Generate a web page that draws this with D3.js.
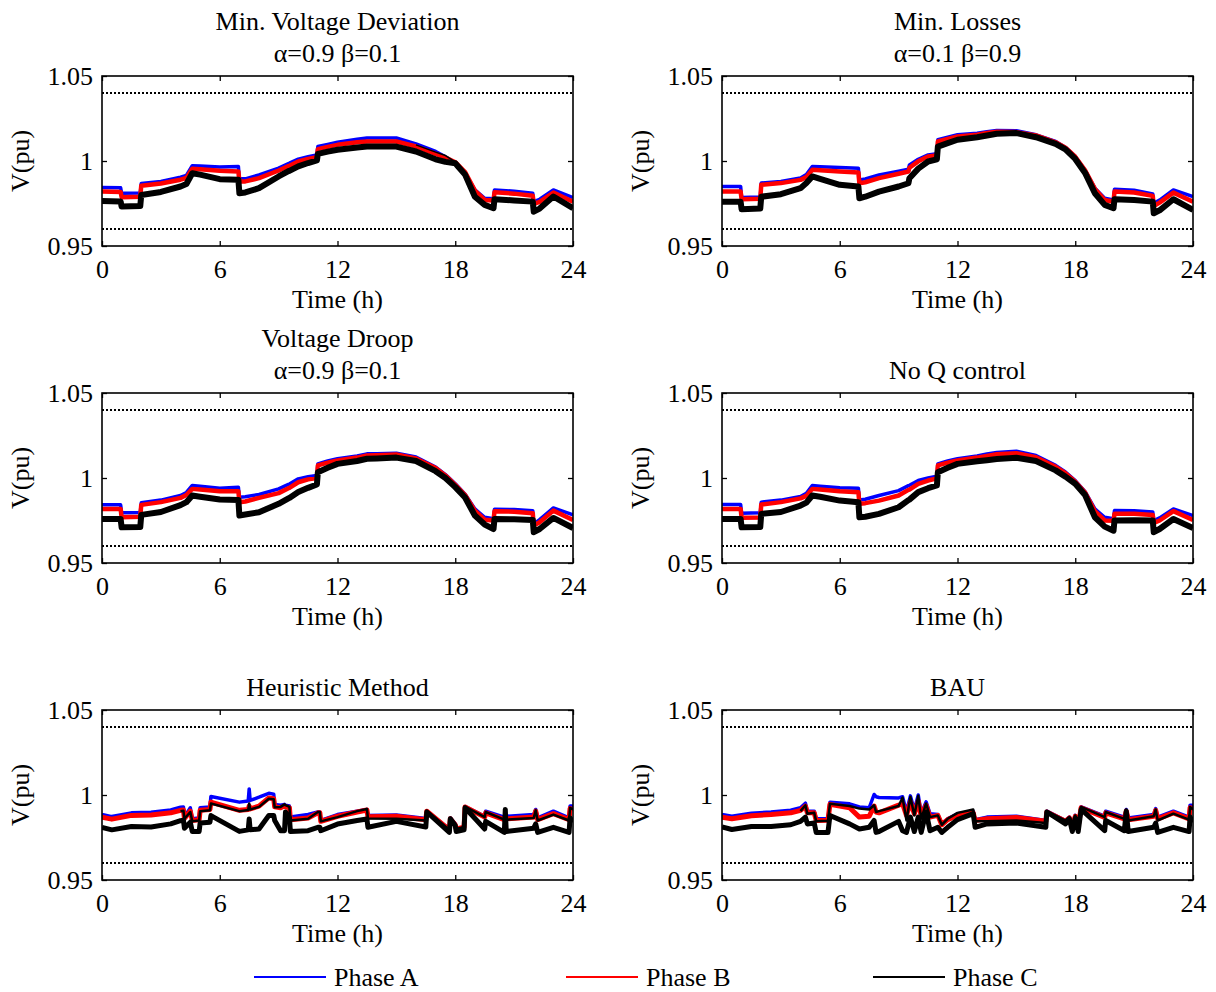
<!DOCTYPE html>
<html>
<head>
<meta charset="utf-8">
<script src="https://cdn.jsdelivr.net/npm/d3@7"></script>
<style>
  body { margin: 0; background: #fff; }
  svg { display: block; }
  text { font-family: "Liberation Serif", "Times New Roman", serif; fill: #000; }
</style>
</head>
<body>
<svg id="chart" width="1216" height="992"></svg>
<script>
// ---- Axis ticks ----
const xTickValues = [0, 6, 12, 18, 24];
const yTickValues = [0.95, 1, 1.05];
const yTickLabels = ["0.95", "1", "1.05"];
const voltageLimits = [0.96, 1.04];

// ---- Legend ----
const phaseNames = ["Phase A", "Phase B", "Phase C"];
const phaseColors = ["#0000ff", "#ff0000", "#000000"];

// ---- Time base for the optimisation / droop / no-control cases (hours) ----
const timeTop = [0, 0.95, 1.0, 1.95, 2.0, 3.0, 4.0, 4.3, 4.6, 5.0, 6.0, 6.95, 7.0, 7.3, 8.0,
  9.0, 9.5, 9.55, 10.0, 10.5, 10.95, 11.0, 11.5, 12.0, 13.0, 13.5, 14.0, 15.0, 16.0, 17.0,
  17.5, 18.0, 18.5, 19.0, 19.5, 19.95, 20.0, 21.0, 21.95, 22.0, 22.3, 23.0, 24.0];

// Min. voltage deviation (alpha=0.9, beta=0.1)
const mvdA = [0.9844,0.9842,0.9810,0.9812,0.9868, 0.9880,0.9905,0.9915,0.9972,0.9970,
  0.9964,0.9968,0.9895,0.9895,0.9918, 0.9958,0.9985,0.9987,1.0011,1.0025,
  1.0036,1.0085,1.0098,1.0111,1.0128, 1.0135,1.0135,1.0135,1.0101,1.0056,
  1.0025,0.9987,0.9930,0.9830,0.9781, 0.9778,0.9830,0.9822,0.9810,0.9761,
  0.9775,0.9830,0.9785];
const mvdB = [0.9820,0.9818,0.9787,0.9790,0.9855, 0.9868,0.9890,0.9900,0.9954,0.9952,
  0.9942,0.9938,0.9879,0.9880,0.9899, 0.9944,0.9970,0.9972,0.9997,1.0012,
  1.0023,1.0070,1.0083,1.0095,1.0110, 1.0115,1.0115,1.0115,1.0085,1.0042,
  1.0020,0.9993,0.9935,0.9826,0.9771, 0.9768,0.9816,0.9808,0.9795,0.9748,
  0.9760,0.9814,0.9761];
const mvdC = [0.9765,0.9762,0.9732,0.9735,0.9800, 0.9818,0.9850,0.9865,0.9928,0.9920,
  0.9893,0.9889,0.9810,0.9815,0.9840, 0.9909,0.9940,0.9942,0.9968,0.9988,
  1.0003,1.0042,1.0055,1.0066,1.0080, 1.0085,1.0085,1.0085,1.0056,1.0010,
  0.9995,0.9987,0.9920,0.9790,0.9742, 0.9722,0.9775,0.9768,0.9761,0.9702,
  0.9720,0.9791,0.9722];
const mvdC2 = [null,null,null,null,null, null,null,null,null,null,
  null,null,null,null,null, null,null,null,null,null,
  null,null,null,null,null, null,null,null,1.0095,1.0052,
  1.0032,0.9995,0.9928,null,null, null,null,null,null,null,
  null,null,null];

// Min. losses (alpha=0.1, beta=0.9)
const lossA = [0.9850,0.9850,0.9785,0.9788,0.9870, 0.9880,0.9900,0.9920,0.9968,0.9966,
  0.9962,0.9958,0.9889,0.9895,0.9918, 0.9940,0.9952,0.9977,1.0010,1.0036,
  1.0042,1.0125,1.0140,1.0154,1.0164, 1.0172,1.0180,1.0178,1.0154,1.0115,
  1.0080,1.0027,0.9945,0.9840,0.9781, 0.9771,0.9834,0.9828,0.9806,0.9751,
  0.9770,0.9830,0.9791];
const lossB = [0.9820,0.9820,0.9775,0.9778,0.9860, 0.9870,0.9889,0.9905,0.9948,0.9945,
  0.9938,0.9932,0.9869,0.9875,0.9899, 0.9925,0.9938,0.9960,0.9998,1.0026,
  1.0032,1.0115,1.0130,1.0144,1.0155, 1.0165,1.0172,1.0170,1.0150,1.0110,
  1.0078,1.0025,0.9945,0.9836,0.9771, 0.9760,0.9820,0.9815,0.9795,0.9735,
  0.9755,0.9814,0.9761];
const lossC = [0.9761,0.9760,0.9716,0.9720,0.9790, 0.9805,0.9840,0.9870,0.9909,0.9895,
  0.9860,0.9850,0.9781,0.9790,0.9820, 0.9850,0.9869,0.9899,0.9955,0.9997,
  1.0010,1.0085,1.0105,1.0125,1.0140, 1.0150,1.0160,1.0164,1.0140,1.0101,
  1.0068,1.0012,0.9930,0.9810,0.9742, 0.9722,0.9775,0.9770,0.9761,0.9693,
  0.9710,0.9775,0.9712];

// Voltage droop (alpha=0.9, beta=0.1)
const droopA = [0.9842,0.9842,0.9795,0.9797,0.9854, 0.9870,0.9897,0.9915,0.9956,0.9952,
  0.9940,0.9946,0.9887,0.9890,0.9903, 0.9936,0.9962,0.9964,0.9995,1.0008,
  1.0015,1.0083,1.0100,1.0113,1.0130, 1.0142,1.0143,1.0146,1.0123,1.0064,
  1.0020,0.9966,0.9905,0.9818,0.9769, 0.9760,0.9816,0.9815,0.9808,0.9730,
  0.9755,0.9824,0.9783];
const droopB = [0.9818,0.9818,0.9769,0.9772,0.9842, 0.9858,0.9883,0.9900,0.9936,0.9932,
  0.9922,0.9922,0.9858,0.9862,0.9883, 0.9911,0.9940,0.9942,0.9975,0.9992,
  1.0000,1.0074,1.0090,1.0103,1.0120, 1.0132,1.0134,1.0138,1.0115,1.0058,
  1.0015,0.9960,0.9900,0.9808,0.9755, 0.9750,0.9805,0.9802,0.9793,0.9720,
  0.9740,0.9808,0.9753];
const droopC = [0.9759,0.9759,0.9710,0.9712,0.9783, 0.9800,0.9840,0.9858,0.9897,0.9890,
  0.9873,0.9871,0.9779,0.9785,0.9799, 0.9848,0.9880,0.9883,0.9917,0.9942,
  0.9962,1.0034,1.0060,1.0083,1.0100, 1.0113,1.0115,1.0120,1.0100,1.0040,
  1.0000,0.9946,0.9885,0.9779,0.9726, 0.9700,0.9759,0.9757,0.9753,0.9681,
  0.9700,0.9765,0.9706];

// No Q control
const noqA = [0.9844,0.9844,0.9793,0.9795,0.9858, 0.9870,0.9891,0.9910,0.9956,0.9952,
  0.9942,0.9940,0.9871,0.9875,0.9897, 0.9926,0.9955,0.9957,0.9985,1.0000,
  1.0010,1.0083,1.0100,1.0113,1.0130, 1.0142,1.0150,1.0158,1.0132,1.0074,
  1.0035,0.9985,0.9920,0.9818,0.9769, 0.9760,0.9809,0.9808,0.9800,0.9750,
  0.9765,0.9818,0.9779];
const noqB = [0.9818,0.9818,0.9766,0.9768,0.9844, 0.9858,0.9880,0.9895,0.9936,0.9932,
  0.9922,0.9916,0.9848,0.9852,0.9867, 0.9897,0.9930,0.9932,0.9966,0.9985,
  0.9998,1.0074,1.0090,1.0103,1.0120, 1.0130,1.0140,1.0146,1.0122,1.0066,
  1.0028,0.9978,0.9915,0.9805,0.9750, 0.9748,0.9789,0.9790,0.9782,0.9735,
  0.9750,0.9805,0.9753];
const noqC = [0.9759,0.9759,0.9710,0.9712,0.9789, 0.9800,0.9838,0.9855,0.9897,0.9890,
  0.9867,0.9857,0.9769,0.9772,0.9789, 0.9828,0.9870,0.9873,0.9917,0.9940,
  0.9956,1.0034,1.0060,1.0083,1.0098, 1.0105,1.0112,1.0119,1.0100,1.0045,
  1.0008,0.9966,0.9900,0.9769,0.9714, 0.9690,0.9750,0.9752,0.9750,0.9681,
  0.9700,0.9759,0.9706];

// Heuristic method
const heurTime = [0, 0.5, 1.5, 2.5, 3.5, 4.0, 4.15, 4.2, 4.5, 4.6, 4.95, 5.0, 5.5, 5.55,
  7.0, 7.45, 7.5, 7.55, 8.0, 8.5, 8.75, 8.8, 9.1, 9.3, 9.35, 9.55, 9.6, 10.5, 11.0, 11.1,
  11.15, 12.0, 13.0, 13.5, 13.55, 15.0, 16.5, 16.55, 17.7, 17.75, 18.0, 18.05, 18.45, 18.5,
  19.5, 19.55, 20.5, 20.55, 20.6, 22.0, 22.1, 22.2, 23.0, 23.8, 23.85, 24.0];
const heurA = [0.9885,0.9873,0.9895,0.9898,0.9912, 0.9928,0.9930,0.9870,0.9925,0.9860,
  0.9865,0.9925,0.9930,0.9991, 0.9958,0.9965,1.0036,0.9968,0.9987,1.0010,1.0005,0.9944,
  0.9940,0.9945,0.9940,0.9935,0.9870,0.9885,0.9900,0.9900, 0.9850,0.9885,0.9905,0.9915,
  0.9880,0.9882,0.9862,0.9905,0.9800,0.9865,0.9830,0.9805,0.9815,0.9932, 0.9875,0.9905,
  0.9869,0.9875,0.9875,0.9885,0.9915,0.9865,0.9905,0.9865,0.9935,0.9935];
const heurB = [0.9869,0.9858,0.9880,0.9882,0.9895, 0.9910,0.9912,0.9862,0.9905,0.9850,
  0.9855,0.9910,0.9915,0.9958, 0.9910,0.9915,0.9935,0.9918,0.9935,0.9983,0.9978,0.9930,
  0.9925,0.9935,0.9930,0.9925,0.9855,0.9865,0.9895,0.9895, 0.9845,0.9875,0.9900,0.9912,
  0.9872,0.9875,0.9855,0.9905,0.9795,0.9860,0.9825,0.9800,0.9810,0.9930, 0.9870,0.9895,
  0.9855,0.9860,0.9860,0.9870,0.9905,0.9855,0.9890,0.9855,0.9920,0.9915];
const heurC = [null,null,null,null,null, 0.9905,0.9908,0.9860,0.9900,0.9845,
  0.9850,0.9905,0.9910,0.9950, 0.9905,0.9912,0.9950,0.9915,0.9930,0.9978,0.9975,0.9928,
  0.9930,0.9945,0.9940,0.9930,0.9850,0.9860,0.9900,0.9900, 0.9845,0.9870,0.9905,0.9918,
  0.9862,0.9860,0.9850,0.9908,0.9795,0.9865,0.9830,0.9800,0.9812,0.9932, 0.9870,0.9900,
  0.9855,0.9915,0.9855,0.9865,0.9910,0.9850,0.9885,0.9850,0.9925,0.9915];
const heurC2 = [0.9810,0.9795,0.9815,0.9812,0.9830, 0.9849,0.9852,0.9805,0.9840,0.9785,
  0.9785,0.9835,0.9840,0.9879, 0.9786,0.9795,0.9859,0.9795,0.9800,0.9879,0.9879,0.9850,
  0.9790,0.9790,0.9900,0.9870,0.9785,0.9790,0.9810,0.9810, 0.9790,0.9829,0.9850,0.9859,
  0.9810,0.9845,0.9812,0.9900,0.9780,0.9860,0.9820,0.9785,0.9795,0.9925, 0.9800,0.9845,
  0.9780,0.9915,0.9785,0.9805,0.9830,0.9780,0.9810,0.9780,0.9865,0.9840];

// BAU
const bauTime = [0, 0.5, 1.5, 2.5, 3.5, 4.0, 4.25, 4.35, 4.7, 4.8, 5.4, 5.5, 6.5, 7.0, 7.5,
  7.75, 7.85, 8.0, 9.0, 9.2, 9.4, 9.6, 9.8, 10.0, 10.15, 10.4, 10.6, 11.0, 11.2, 11.5,
  12.0, 12.8, 12.9, 13.5, 15.0, 16.5, 16.55, 17.5, 17.7, 17.85, 18.0, 18.15, 18.3, 19.5,
  19.55, 20.5, 20.6, 20.7, 22.0, 22.1, 22.2, 23.0, 23.8, 23.85, 24.0];
const bauA = [0.9885,0.9875,0.9893,0.9900,0.9910, 0.9925,0.9952,0.9905,0.9905,0.9860,
  0.9860,0.9958,0.9948,0.9930,0.9925, 1.0003,0.9990,0.9985,0.9983,0.9990, 0.9900,0.9995,
  0.9910,1.0000,0.9890, 0.9960,0.9890,0.9885,0.9830,0.9860, 0.9890,0.9905,0.9855,0.9870,
  0.9875, 0.9850,0.9905,0.9850,0.9870,0.9810, 0.9880,0.9820,0.9930,0.9875, 0.9905,0.9870,
  0.9915,0.9865,0.9885, 0.9920,0.9870,0.9905,0.9870,0.9940,0.9940];
const bauB = [0.9869,0.9860,0.9878,0.9885,0.9895, 0.9910,0.9935,0.9895,0.9895,0.9850,
  0.9852,0.9945,0.9925,0.9870,0.9875, 0.9935,0.9900,0.9895,0.9940,0.9950, 0.9880,0.9960,
  0.9890,0.9965,0.9875, 0.9940,0.9870,0.9880,0.9825,0.9855, 0.9880,0.9895,0.9850,0.9860,
  0.9868, 0.9845,0.9900,0.9845,0.9865,0.9805, 0.9875,0.9815,0.9925,0.9868, 0.9895,0.9860,
  0.9905,0.9855,0.9875, 0.9910,0.9860,0.9895,0.9860,0.9925,0.9920];
const bauC = [null,null,null,null,null, 0.9905,0.9940,0.9890,0.9895,0.9845,
  0.9848,0.9948,0.9935,0.9920,0.9915, 0.9940,0.9900,0.9905,0.9935,0.9985, 0.9850,0.9990,
  0.9880,0.9995,0.9860, 0.9950,0.9870,0.9880,0.9825,0.9860, 0.9895,0.9915,0.9845,0.9845,
  0.9850, 0.9835,0.9905,0.9850,0.9870,0.9805, 0.9880,0.9815,0.9930,0.9870, 0.9900,0.9860,
  0.9915,0.9850,0.9875, 0.9915,0.9850,0.9890,0.9855,0.9930,0.9915];
const bauC2 = [0.9812,0.9797,0.9815,0.9815,0.9825, 0.9845,0.9870,0.9830,0.9835,0.9780,
  0.9780,0.9879,0.9830,0.9800,0.9810, 0.9850,0.9780,0.9785,0.9845,0.9790, 0.9780,0.9870,
  0.9785,0.9870,0.9780, 0.9900,0.9790,0.9810,0.9780,0.9810, 0.9855,0.9890,0.9810,0.9830,
  0.9835, 0.9810,0.9900,0.9830,0.9860,0.9785, 0.9865,0.9785,0.9915,0.9790, 0.9850,0.9790,
  0.9905,0.9785,0.9810, 0.9835,0.9780,0.9810,0.9785,0.9870,0.9840];

// ---- Panel table ----
const topWidths = [3.5, 4.5, 6, 1.5];
const bottomWidths = [3.5, 5, 2.5, 5];
const panels = [
  { title: ["Min. Voltage Deviation", "\u03b1=0.9 \u03b2=0.1"], col: 0, row: 0, time: timeTop,
    series: [mvdA, mvdB, mvdC, mvdC2], widths: topWidths },
  { title: ["Min. Losses", "\u03b1=0.1 \u03b2=0.9"], col: 1, row: 0, time: timeTop,
    series: [lossA, lossB, lossC, null], widths: topWidths },
  { title: ["Voltage Droop", "\u03b1=0.9 \u03b2=0.1"], col: 0, row: 1, time: timeTop,
    series: [droopA, droopB, droopC, null], widths: topWidths },
  { title: ["No Q control"], col: 1, row: 1, time: timeTop,
    series: [noqA, noqB, noqC, null], widths: topWidths },
  { title: ["Heuristic Method"], col: 0, row: 2, time: heurTime,
    series: [heurA, heurB, heurC, heurC2], widths: bottomWidths },
  { title: ["BAU"], col: 1, row: 2, time: bauTime,
    series: [bauA, bauB, bauC, bauC2], widths: bottomWidths }
];
const seriesColors = ["#0000ff", "#ff0000", "#000000", "#000000"];

// ---- Layout ----
const svg = d3.select("#chart");
const colX = [102, 722];
const rowY = [76, 393, 710];
const W = 471, H = 170;
const FONT = 26;

const x = d3.scaleLinear().domain([0, 24]).range([0, W]);
const y = d3.scaleLinear().domain([0.95, 1.05]).range([H, 0]);

panels.forEach((p, i) => {
  const g = svg.append("g").attr("transform", `translate(${colX[p.col]},${rowY[p.row]})`);

  // clip region for the traces
  const clipId = "clip" + i;
  g.append("clipPath").attr("id", clipId)
    .append("rect").attr("x", 0).attr("y", 0).attr("width", W).attr("height", H);

  // voltage limit lines
  g.selectAll("line.limit").data(voltageLimits).enter().append("line")
    .attr("class", "limit")
    .attr("x1", 0).attr("x2", W)
    .attr("y1", d => y(d)).attr("y2", d => y(d))
    .attr("stroke", "#000").attr("stroke-width", 2)
    .attr("stroke-dasharray", "2,2");

  // voltage traces
  const plot = g.append("g").attr("clip-path", `url(#${clipId})`);
  p.series.forEach((vals, k) => {
    if (!vals) return;
    const pts = p.time.map((t, j) => [t, vals[j]]);
    const line = d3.line()
      .defined(d => d[1] !== null)
      .x(d => x(d[0])).y(d => y(d[1]));
    plot.append("path").datum(pts)
      .attr("d", line)
      .attr("fill", "none")
      .attr("stroke", seriesColors[k])
      .attr("stroke-width", p.widths[k])
      .attr("stroke-linejoin", "round")
      .attr("stroke-linecap", "butt");
  });

  // axes with inward ticks on all four sides
  const styleAxis = sel => {
    sel.select(".domain").remove();
    sel.selectAll(".tick line").attr("stroke", "#000").attr("stroke-width", 1.3);
    sel.selectAll(".tick text").style("font-size", FONT + "px")
      .style("font-family", '"Liberation Serif", "Times New Roman", serif');
  };
  g.append("g").attr("transform", `translate(0,${H})`)
    .call(d3.axisBottom(x).tickValues(xTickValues).tickSizeInner(-5).tickSizeOuter(0)
      .tickPadding(13.5).tickFormat(d3.format("d")))
    .call(styleAxis);
  g.append("g")
    .call(d3.axisTop(x).tickValues(xTickValues).tickSizeInner(-5).tickSizeOuter(0)
      .tickFormat(() => ""))
    .call(styleAxis);
  g.append("g")
    .call(d3.axisLeft(y).tickValues(yTickValues).tickSizeInner(-5).tickSizeOuter(0)
      .tickPadding(9).tickFormat((d, j) => yTickLabels[j]))
    .call(styleAxis);
  g.append("g").attr("transform", `translate(${W},0)`)
    .call(d3.axisRight(y).tickValues(yTickValues).tickSizeInner(-5).tickSizeOuter(0)
      .tickFormat(() => ""))
    .call(styleAxis);

  // frame
  g.append("rect").attr("x", 0).attr("y", 0).attr("width", W).attr("height", H)
    .attr("fill", "none").attr("stroke", "#000").attr("stroke-width", 1.6);

  // titles
  const nLines = p.title.length;
  p.title.forEach((t, k) => {
    g.append("text")
      .attr("x", W / 2).attr("y", -14.5 - (nLines - 1 - k) * 32)
      .attr("text-anchor", "middle")
      .style("font-size", FONT + "px")
      .text(t);
  });

  // axis labels
  g.append("text")
    .attr("x", W / 2).attr("y", H + 62)
    .attr("text-anchor", "middle")
    .style("font-size", FONT + "px")
    .text("Time (h)");
  g.append("text")
    .attr("transform", `translate(-73,${H / 2}) rotate(-90)`)
    .attr("text-anchor", "middle")
    .style("font-size", FONT + "px")
    .text("V(pu)");
});

// ---- Legend ----
const legendX = [254, 566, 873];
const legendY = 977;
const legend = svg.append("g");
phaseNames.forEach((name, i) => {
  legend.append("line")
    .attr("x1", legendX[i]).attr("x2", legendX[i] + 72)
    .attr("y1", legendY).attr("y2", legendY)
    .attr("stroke", phaseColors[i]).attr("stroke-width", 2);
  legend.append("text")
    .attr("x", legendX[i] + 80).attr("y", legendY + 9)
    .style("font-size", FONT + "px")
    .text(name);
});
</script>
</body>
</html>
